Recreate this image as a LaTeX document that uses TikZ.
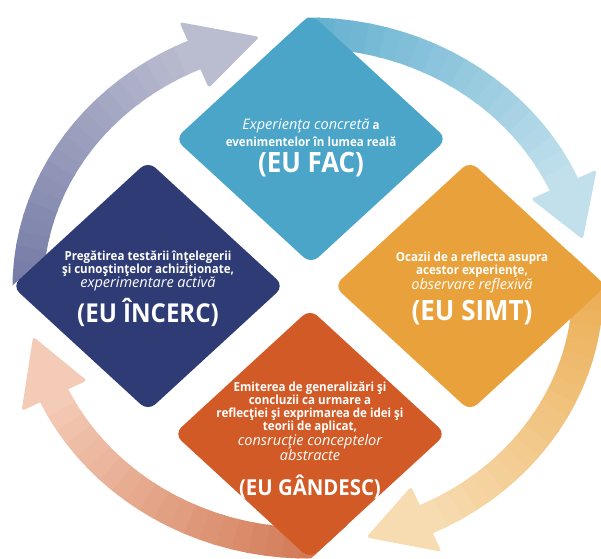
\documentclass[tikz,border=0pt]{standalone}
\usepackage{fontspec}
\setmainfont{Open Sans}
\newfontfamily\narrowfont{Open Sans}[FakeStretch=0.925]

\definecolor{fac}{HTML}{4AA5C8}
\definecolor{incerc}{HTML}{2F3B74}
\definecolor{simt}{HTML}{E9A23B}
\definecolor{gandesc}{HTML}{D25A26}
\definecolor{lavA}{HTML}{6A71A0}\definecolor{lavB}{HTML}{BABDD0}
\definecolor{skyA}{HTML}{4FA6CA}\definecolor{skyB}{HTML}{C2E0EC}
\definecolor{ambA}{HTML}{E9A542}\definecolor{ambB}{HTML}{F7DCB2}
\definecolor{salA}{HTML}{CB6A43}\definecolor{salB}{HTML}{F4CBB6}

% ring the four arrows run on
\newcommand\ringcx{308}\newcommand\ringcy{288}
\newcommand\ringrx{280}\newcommand\ringry{255}
\newcommand\ringpt[2]{({\ringcx+(\ringrx+#2)*cos(#1)},{\ringcy+(\ringry+#2)*sin(#1)})}

% #1 start, #2 head base, #3 tip, #4 #5 colours, #6 region kept
\newcommand\cyclearrow[6]{%
 \begin{scope}
  \clip #6;
  \foreach \i in {0,...,23}{
   \pgfmathsetmacro\ta{#1+(#2-#1)*\i/24}
   \pgfmathsetmacro\tb{#1+(#2-#1)*(\i+1)/24+0.5}
   \pgfmathtruncatemacro\p{100*\i/23}
   \draw[line width=31pt,#5!\p!#4] \ringpt{\ta}{0} arc[start angle=\ta,end angle=\tb,x radius=\ringrx,y radius=\ringry];
  }
  \fill[#5,rounded corners=3pt] \ringpt{#2}{36} -- \ringpt{#3}{0} -- \ringpt{#2}{-36} -- cycle;
 \end{scope}}

\newcommand\remark[1]{{\normalfont\itshape\fontsize{14.5}{13}\selectfont #1}}

\begin{document}
\begin{tikzpicture}[x=1pt,y=-1pt,
  petal/.style={rounded corners=10pt},
  say/.style={text=white,align=center,inner sep=0pt,font=\narrowfont\bfseries\fontsize{12.5}{13}\selectfont},
  eu/.style={text=white,inner sep=0pt,font=\narrowfont\bfseries\fontsize{28}{30}\selectfont}]
 \fill[white] (0,0) rectangle (601,558);
 \useasboundingbox (0,0) rectangle (601,558);

 % arrows behind the diamonds
 \cyclearrow{170}{246}{260}{lavA}{lavB}{(-50,343) -- (400,-71) -- (-50,-71) -- cycle}
 \cyclearrow{255}{336}{349}{skyA}{skyB}{(381,-50) -- (-109,400) -- (700,400) -- (700,-50) -- cycle}
 \cyclearrow{345}{425}{438}{ambA}{ambB}{(300,5) -- (700,372) -- (700,700) -- (300,700) -- cycle}
 \cyclearrow{75}{155}{169}{salA}{salB}{(-50,300) -- (592,300) -- (157,700) -- (-50,700) -- cycle}

 % diamonds
 \fill[fac,petal] (311,14) -- (447,139) -- (311,264) -- (175,139) -- cycle;
 \fill[incerc,petal] (148,161) -- (284,286) -- (148,411) -- (12,286) -- cycle;
 \fill[simt,petal] (470,161) -- (606,286) -- (470,411) -- (334,286) -- cycle;
 \fill[gandesc,petal] (310,309) -- (446,434) -- (310,559) -- (174,434) -- cycle;

 \node[say] (fac) at (311,133) {\remark{Experienţa concretă} a\\[3pt]evenimentelor în lumea reală};
 \node[eu] (facme) at (311,165) {(EU FAC)};
 \node[say] (incerc) at (148,271) {Pregătirea testării înţelegerii\\şi cunoştinţelor achiziţionate,\\\remark{experimentare activă}};
 \node[eu,font=\narrowfont\bfseries\fontsize{26}{28}\selectfont] (incercme) at (148,312) {(EU ÎNCERC)};
 \node[say] (simt) at (472,272) {Ocazii de a reflecta asupra\\acestor experienţe,\\\remark{observare reflexivă}};
 \node[eu] (simtme) at (472,313) {(EU SIMT)};
 \node[say] (gandesc) at (310,421) {Emiterea de generalizări şi\\concluzii ca urmare a\\reflecţiei şi exprimarea de idei şi\\teorii de aplicat,\\\remark{consrucţie conceptelor}\\\remark{abstracte}};
 \node[eu,font=\narrowfont\bfseries\fontsize{22}{24}\selectfont] (gandescme) at (310,487) {(EU GÂNDESC)};
\end{tikzpicture}
\end{document}
